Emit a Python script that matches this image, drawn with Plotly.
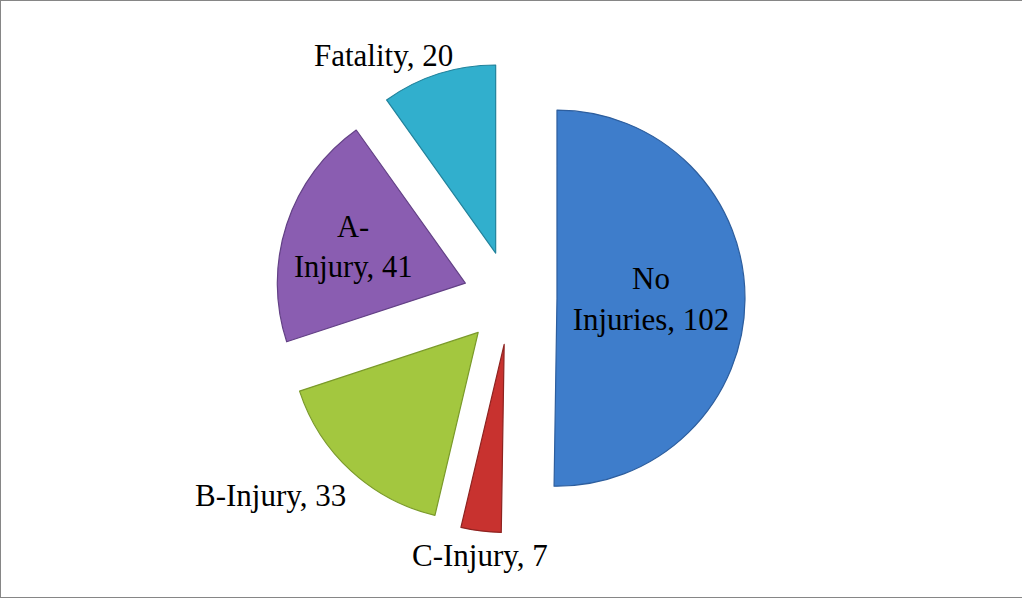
import plotly.graph_objects as go

# Crash severity counts
categories = ["No Injuries", "C-Injury", "B-Injury", "A-Injury", "Fatality"]
counts = [102, 7, 33, 41, 20]
slice_colors = ["#3E7DCB", "#C8322F", "#A3C73F", "#8A5DB1", "#31AFCD"]
edge_colors = ["#2D5E9E", "#8E2320", "#7A9A2A", "#634186", "#22839C"]

# Slices labelled inside the wedge (with the line break used there); the rest get callouts
inside_breaks = {"No Injuries": "No<br>Injuries", "A-Injury": "A-<br>Injury"}
callout_pos = {  # paper coordinates of the outside labels
    "Fatality": (0.3752, 0.9064),
    "B-Injury": (0.2642, 0.1706),
    "C-Injury": (0.4692, 0.0719),
}

FONT = dict(family="Liberation Serif, Times New Roman, serif", size=31, color="black")
W, H = 1022, 598

slice_text = [
    f"{inside_breaks[c]}, {v}" if c in inside_breaks else ""
    for c, v in zip(categories, counts)
]

fig = go.Figure(
    go.Pie(
        labels=categories,
        values=counts,
        text=slice_text,
        textinfo="text",
        textposition="inside",
        insidetextorientation="horizontal",
        automargin=False,
        sort=False,
        direction="clockwise",
        rotation=0,
        pull=[0.25] * len(counts),
        marker=dict(colors=slice_colors, line=dict(color=edge_colors, width=1.2)),
        textfont=FONT,
        insidetextfont=FONT,
        domain=dict(x=[0.269, 0.729], y=[0.109, 0.895]),
        showlegend=False,
        hoverinfo="label+value",
    )
)

annotations = [
    dict(
        text=f"{c}, {v}",
        x=callout_pos[c][0],
        y=callout_pos[c][1],
        xref="paper",
        yref="paper",
        xanchor="center",
        yanchor="middle",
        showarrow=False,
        font=FONT,
    )
    for c, v in zip(categories, counts)
    if c in callout_pos
]

# Thin gray frame around the chart area
frame = dict(type="line", xref="paper", yref="paper", line=dict(color="#868686", width=2))
fig.update_layout(
    width=W,
    height=H,
    autosize=False,
    margin=dict(l=0, r=0, t=0, b=0, pad=0, autoexpand=False),
    paper_bgcolor="white",
    plot_bgcolor="white",
    annotations=annotations,
    shapes=[
        dict(frame, x0=0, x1=1, y0=1, y1=1),
        dict(frame, x0=0, x1=0, y0=0, y1=1),
        dict(frame, x0=0, x1=1, y0=0, y1=0),
    ],
)

fig.write_html("out.html")
